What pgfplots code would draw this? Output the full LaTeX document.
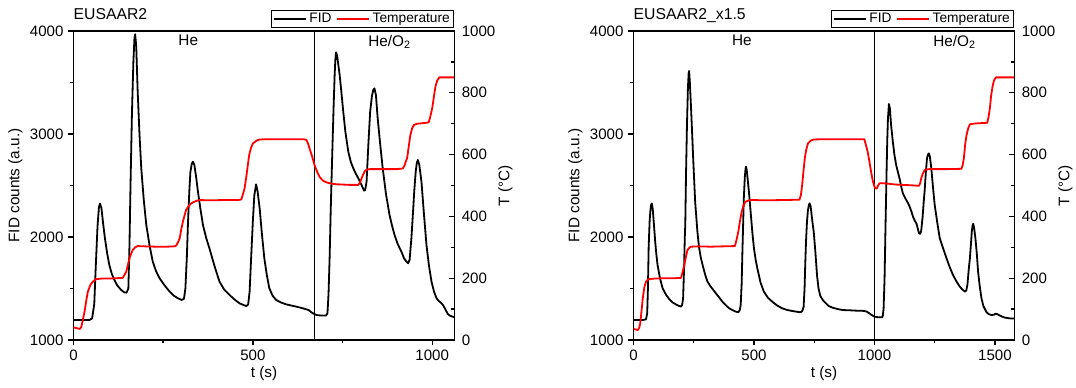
\documentclass[border=0pt]{standalone}
\usepackage{fontspec}
\setmainfont{Liberation Sans}
\usepackage{pgfplots}
\usepackage{pgfplotstable}
\pgfplotsset{compat=1.18}

\pgfplotstableread{
x y
0 1195
20 1195
45 1195
52 1210
58 1350
62 1700
67 2100
71 2290
74 2325
78 2280
83 2120
88 1980
94 1840
100 1728
107 1640
114 1583
122 1530
133 1486
142 1462
148 1460
153 1500
156 1900
159 2500
163 3200
167 3700
170 3930
172 3968
175 3850
179 3411
184 3000
189 2667
196 2360
203 2117
212 1920
221 1761
230 1670
240 1600
254 1530
268 1470
280 1430
291 1405
302 1389
308 1400
312 1500
316 1800
319 2117
323 2450
326 2634
330 2715
333 2731
337 2700
342 2580
347 2440
354 2270
361 2117
370 1990
379 1890
393 1720
407 1567
420 1490
435 1437
450 1390
463 1356
475 1338
482 1330
487 1345
491 1470
495 1780
500 2150
504 2400
509 2511
513 2450
519 2278
525 2040
532 1793
539 1630
546 1502
555 1430
565 1389
578 1365
593 1346
607 1335
621 1324
635 1312
649 1298
656 1290
663 1269
670 1255
677 1243
690 1237
704 1237
708 1260
711 1450
714 1793
717 2250
721 2764
725 3250
728 3573
730 3720
732 3793
735 3760
738 3680
742 3573
747 3400
752 3217
758 3020
766 2829
773 2730
780 2667
787 2615
794 2570
803 2505
810 2450
813 2455
817 2537
822 2900
827 3217
832 3370
836 3430
839 3443
843 3380
848 3152
855 2900
862 2667
871 2420
881 2214
888 2110
895 2020
904 1930
914 1858
922 1790
928 1761
933 1745
937 1780
942 1990
946 2214
950 2450
954 2634
957 2720
960 2748
964 2700
970 2537
977 2220
984 1922
991 1720
998 1567
1005 1470
1012 1405
1018 1380
1026 1356
1031 1335
1035 1308
1040 1275
1044 1250
1049 1237
1055 1228
1062 1222
}\fidA

\pgfplotstableread{
x y
0 41
10 38
18 36
22 43
27 70
31 92
36 130
40 156
47 178
54 189
63 197
80 199
100 199
120 200
137 201
142 210
147 221
152 245
156 264
161 280
165 291
172 300
179 304
200 303
230 302
260 302
280 303
286 305
291 315
296 329
300 355
305 383
310 405
314 421
320 432
328 442
340 449
351 453
380 452
420 453
460 453
468 455
472 470
477 491
482 530
486 566
490 600
495 622
500 636
510 645
519 649
550 650
600 650
640 650
649 648
654 635
658 620
665 595
672 566
679 545
686 528
695 516
705 510
720 506
733 504
770 502
794 502
799 510
803 523
808 537
813 548
820 552
827 553
870 553
900 553
918 555
923 565
927 580
930 588
935 630
939 663
944 685
949 696
958 700
967 701
990 704
994 720
1000 750
1005 790
1009 820
1014 840
1020 850
1062 850
}\tA

\pgfplotstableread{
x y
0 1195
40 1195
52 1200
57 1260
60 1500
63 1900
67 2150
70 2250
73 2310
76 2327
80 2270
85 2120
90 1960
95 1830
100 1728
110 1600
121 1502
135 1440
149 1395
162 1365
176 1346
188 1332
197 1324
202 1340
206 1405
210 1700
213 2000
215 2117
218 2600
222 3088
226 3450
229 3590
231 3612
234 3500
238 3300
242 3088
248 2750
256 2343
265 2060
272 1900
280 1793
290 1700
298 1630
307 1567
320 1520
330 1490
342 1453
355 1415
369 1372
382 1340
396 1310
410 1291
422 1278
435 1269
441 1290
445 1340
449 1550
452 1850
455 2117
458 2380
462 2580
465 2660
467 2683
470 2650
474 2560
479 2440
486 2250
493 2052
500 1890
507 1780
514 1696
527 1560
541 1470
558 1410
576 1372
596 1335
617 1308
637 1292
658 1282
676 1275
693 1269
700 1280
706 1320
710 1500
713 1750
716 1955
720 2150
724 2260
728 2310
731 2327
735 2300
740 2200
744 2120
748 2052
755 1850
762 1620
768 1500
775 1430
785 1390
792 1372
810 1330
826 1314
848 1300
868 1291
900 1288
924 1285
945 1284
958 1282
968 1275
979 1259
990 1240
1000 1227
1015 1221
1032 1220
1035 1240
1038 1308
1042 1600
1046 2117
1050 2600
1053 2926
1056 3150
1060 3291
1064 3250
1069 3088
1076 2930
1083 2796
1090 2700
1097 2634
1105 2560
1111 2490
1118 2424
1125 2390
1132 2359
1139 2330
1146 2295
1153 2250
1160 2197
1167 2160
1174 2133
1180 2080
1185 2036
1190 2030
1194 2060
1200 2200
1204 2330
1208 2440
1213 2620
1218 2764
1222 2800
1226 2812
1230 2780
1236 2667
1243 2480
1250 2311
1260 2150
1271 1987
1285 1890
1299 1793
1312 1710
1326 1631
1340 1570
1354 1518
1365 1490
1375 1470
1381 1480
1386 1540
1391 1680
1396 1793
1400 1920
1404 2052
1407 2110
1410 2130
1414 2080
1419 1987
1425 1830
1430 1663
1437 1520
1444 1405
1452 1330
1465 1269
1475 1250
1486 1243
1495 1245
1504 1256
1510 1250
1521 1237
1532 1225
1542 1217
1562 1210
1581 1208
}\fidB

\pgfplotstableread{
x y
0 36
10 34
18 32
24 40
28 54
33 90
38.6 135
45 170
52 189
60 195
66 197
90 199
130 200
170 200
197 201
204 220
211 243
218 270
224 291
231 298
238 302
270 303
320 302
370 303
421 304
428 325
435 351
442 385
449 415
457 437
466 448
480 452
493 453
550 452
620 453
689 454
695 470
700 502
706 550
711 588
717 616
724 636
735 645
748 649
800 650
900 650
958 650
965 630
972 609
979 578
986 545
993 515
1000 496
1005 490
1010 491
1015 500
1021 507
1042 507
1090 503
1146 501
1185 499
1190 508
1194 523
1200 537
1208 550
1218 552
1229 553
1300 553
1361 554
1366 565
1371 588
1376 630
1382 663
1389 685
1396 698
1410 700
1424 701
1468 703
1473 720
1479 750
1484 790
1490 820
1496 840
1504 850
1581 850
}\tB

\pgfplotsset{
  base/.style={
    scale only axis, width=285.75pt, height=231.75pt,
    xmin=0,
    axis line style={line width=1.2pt},
    every tick/.style={black, line width=1pt},
    major tick length=4pt, minor tick length=2.5pt,
    tick label style={font=\fontsize{11.3}{13}\selectfont},
    label style={font=\fontsize{11.5}{13}\selectfont},
    /pgf/number format/assume math mode=true,
    /pgf/number format/1000 sep={},
  },
  fidaxis/.style={
    base,
    ymin=1000, ymax=4000,
    ytick={1000,2000,3000,4000}, minor ytick={1500,2500,3500},
    xtick pos=left, ytick pos=left, tick align=outside,
    ylabel={FID counts (a.u.)},
    ylabel style={at={(axis description cs:-0.1522,0.5)}, anchor=center},
    xlabel={t (s)},
    xlabel style={at={(axis description cs:0.5,-0.110)}, anchor=center},
    title style={at={(0,1)}, anchor=base west, yshift=3pt, inner sep=0pt, font=\fontsize{11.8}{13}\selectfont},
  },
  taxis/.style={
    base,
    ymin=0, ymax=1000,
    ytick={0,200,400,600,800,1000}, minor ytick={100,300,500,700,900},
    hide x axis, axis y line*=right, tick align=inside,
    yticklabel style={xshift=2pt},
    ylabel={T (°C)},
    ylabel style={at={(axis description cs:1.134,0.5)}, anchor=center},
    legend columns=-1,
    legend style={at={(1,1)}, anchor=south east, yshift=2.25pt, draw=black, line width=1pt,
      fill=white, font=\fontsize{10.3}{12}\selectfont, inner xsep=1pt, inner ysep=1.5pt,
      nodes={inner xsep=2pt, inner ysep=0.5pt},
      /tikz/every even column/.append style={column sep=1.5pt}},
    legend image code/.code={\draw[#1] (0pt,0pt) -- (24pt,0pt);},
  },
  fidline/.style={black, line width=1.35pt, line join=round},
  tline/.style={red, line width=1.35pt, line join=round},
}

\begin{document}
\begin{tikzpicture}
% ---------- left panel ----------
\begin{axis}[fidaxis, xmax=1062, xtick={0,500,1000}, minor xtick={250,750}, title={EUSAAR2}]
  \addplot[fidline] table[x=x,y=y] {\fidA};
  \addplot[black, line width=1.3pt] coordinates {(672,1000) (672,4000)};
  \node[anchor=north, inner sep=0pt, font=\fontsize{11.5}{13}\selectfont] at (axis cs:320,3961) {He};
  \node[anchor=north, inner sep=0pt, font=\fontsize{11.5}{13}\selectfont] at (axis cs:881,3961) {He/O\textsubscript{2}};
\end{axis}
\begin{axis}[taxis, xmin=0, xmax=1062]
  \addlegendimage{fidline}
  \addlegendentry{FID}
  \addplot[tline] table[x=x,y=y] {\tA};
  \addlegendentry{Temperature}
\end{axis}
% ---------- right panel ----------
\begin{axis}[fidaxis, at={(420pt,0pt)}, xmax=1581, xtick={0,500,1000,1500}, minor xtick={250,750,1250}, title={EUSAAR2\_x1.5}]
  \addplot[fidline] table[x=x,y=y] {\fidB};
  \addplot[black, line width=1.3pt] coordinates {(1000,1000) (1000,4000)};
  \node[anchor=north, inner sep=0pt, font=\fontsize{11.5}{13}\selectfont] at (axis cs:450,3961) {He};
  \node[anchor=north, inner sep=0pt, font=\fontsize{11.5}{13}\selectfont] at (axis cs:1332,3961) {He/O\textsubscript{2}};
\end{axis}
\begin{axis}[taxis, at={(420pt,0pt)}, xmin=0, xmax=1581]
  \addlegendimage{fidline}
  \addlegendentry{FID}
  \addplot[tline] table[x=x,y=y] {\tB};
  \addlegendentry{Temperature}
\end{axis}
\pgfresetboundingbox
\path (-55.1pt,-35.25pt) rectangle (751.9pt,255pt);
\end{tikzpicture}
\end{document}
